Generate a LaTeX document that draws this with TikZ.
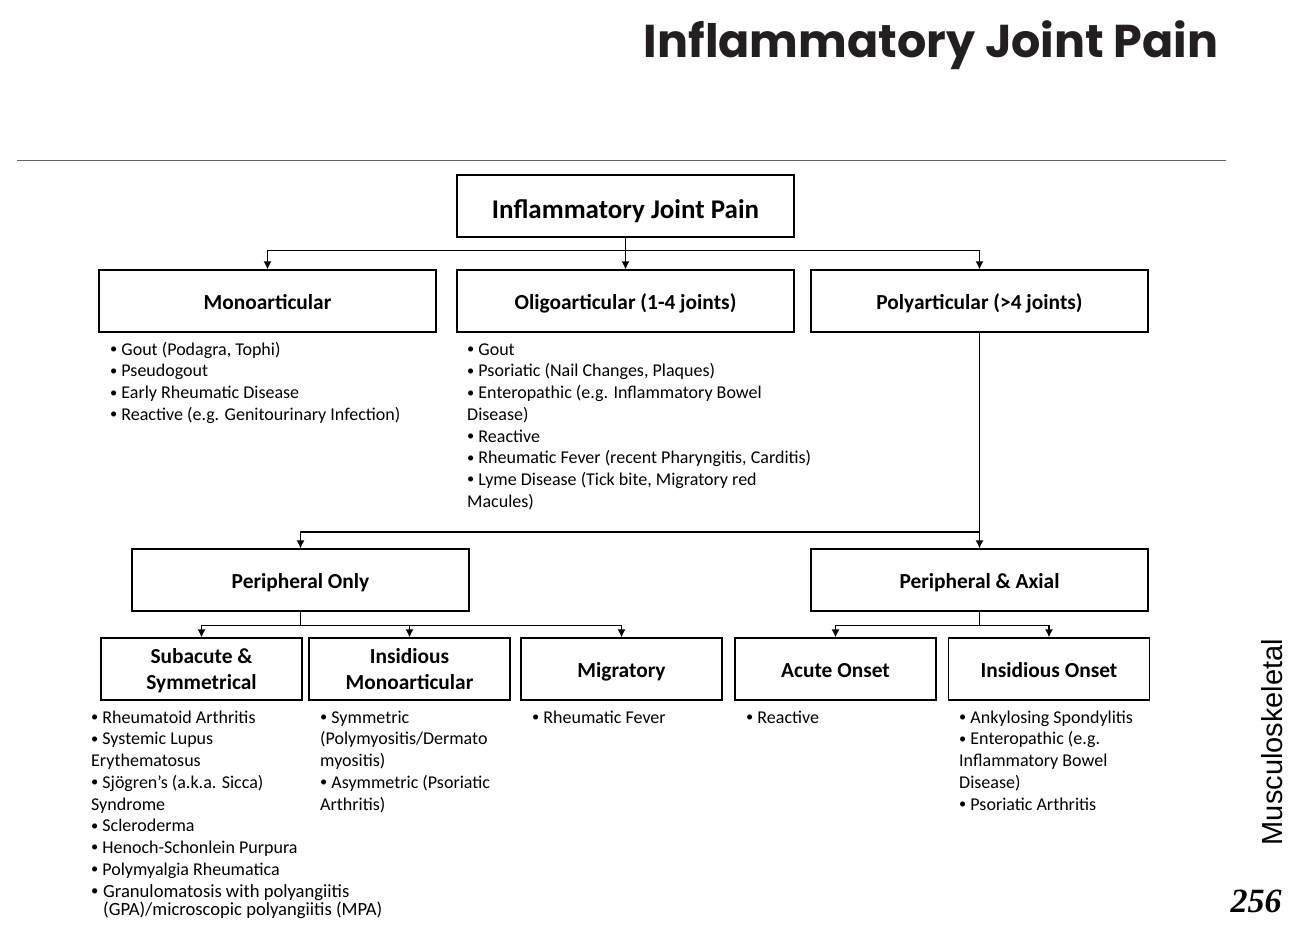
\documentclass[tikz,border=0pt]{standalone}
\usepackage{fontspec}
\usepackage{graphicx}
\setmainfont{Carlito}
\newfontfamily\titlefont{Poppins}
\newfontfamily\sidefont{Liberation Sans}
\newfontfamily\numfont{Liberation Serif}
\usetikzlibrary{arrows.meta}
\definecolor{ink}{HTML}{231F20}
\newcommand\bu{\raisebox{0.08em}{\scalebox{0.8}{•}}}
\newcommand\bs{\rule[-5pt]{0pt}{27pt}}
\newcommand\bsb{\rule[-5pt]{0pt}{35pt}}
\begin{document}
\begin{tikzpicture}[x=1pt,y=-1pt,
  box/.style={draw, line width=1.3pt, minimum width=337pt, minimum height=62pt,
    align=center, inner sep=0pt, font=\bfseries\fontsize{21.4}{26}\selectfont},
  sbox/.style={box, minimum width=201pt},
  arr/.style={line width=1.3pt, -{Latex[length=8pt,width=8pt]}},
  conn/.style={line width=1.3pt},
  bul/.style={anchor=north west, inner sep=0pt, align=left,
    font=\fontsize{18}{21.7}\selectfont}]
\useasboundingbox (0,0) rectangle (1291,938);

% header
\node[anchor=base east, text=ink, font=\titlefont\bfseries\fontsize{46}{56}\selectfont] (title) at (1222,57) {Inflammatory Joint Pain};
\draw[gray!80!black, line width=0.9pt] (17,160) -- (1226,160);

% boxes
\node[box, font=\bfseries\fontsize{27}{32}\selectfont] (top) at (625.5,206) {\bsb Inflammatory Joint Pain};
\node[box] (mono)  at (267.5,301) {\bs Monoarticular};
\node[box] (oligo) at (625.5,301) {\bs Oligoarticular (1-4 joints)};
\node[box] (poly)  at (979.5,301) {\bs Polyarticular (>4 joints)};
\node[box] (po) at (300.5,580) {\bs Peripheral Only};
\node[box] (pa) at (979.5,580) {\bs Peripheral \& Axial};
\node[sbox] (sub)    at (201.5,669) {\rule{0pt}{20pt}Subacute \&\\\rule[-5pt]{0pt}{5pt}Symmetrical};
\node[sbox] (imono)  at (409.5,669) {\rule{0pt}{20pt}Insidious\\\rule[-5pt]{0pt}{5pt}Monoarticular};
\node[sbox] (mig)    at (621.5,669) {\bs Migratory};
\node[sbox] (acute)  at (835.5,669) {\bs Acute Onset};
\node[sbox] (ionset) at (1049,669) {\bs Insidious Onset};

% connectors
\draw[conn] (top.south) -- ++(0,13) coordinate (j1);
\draw[arr] (j1) -| (mono.north);
\draw[arr] (j1) -| (poly.north);
\draw[arr] (top.south) -- (oligo.north);
\draw[arr] (poly.south) -- (pa.north);
\coordinate (j2) at (979.5,532);
\draw[arr] (j2) -| (po.north);
\draw[conn] (po.south) -- ++(0,14) coordinate (j3);
\draw[arr] (j3) -| (sub.north);
\draw[arr] (j3) -| (imono.north);
\draw[arr] (j3) -| (mig.north);
\draw[conn] (pa.south) -- ++(0,14) coordinate (j4);
\draw[arr] (j4) -| (acute.north);
\draw[arr] (j4) -| (ionset.north);

% bullet lists
\node[bul] (lmono) at (110,340) {\rule{0pt}{15pt}\bu\ Gout (Podagra, Tophi)\\\bu\ Pseudogout\\\bu\ Early Rheumatic Disease\\\bu\ Reactive (e.g. Genitourinary Infection)};
\node[bul] (loligo) at (467,340) {\rule{0pt}{15pt}\bu\ Gout\\\bu\ Psoriatic (Nail Changes, Plaques)\\\bu\ Enteropathic (e.g. Inflammatory Bowel\\Disease)\\\bu\ Reactive\\\bu\ Rheumatic Fever (recent Pharyngitis, Carditis)\\\bu\ Lyme Disease (Tick bite, Migratory red\\Macules)};
\node[bul] (lsub) at (91,708) {\rule{0pt}{15pt}\bu\ Rheumatoid Arthritis\\\bu\ Systemic Lupus\\Erythematosus\\\bu\ Sjögren’s (a.k.a. Sicca)\\Syndrome\\\bu\ Scleroderma\\\bu\ Henoch-Schonlein Purpura\\\bu\ Polymyalgia Rheumatica};
\node[bul, font=\fontsize{18.6}{18}\selectfont] (lgpa) at (91,883) {\rule{0pt}{14pt}\makebox[12pt][l]{\bu}Granulomatosis with polyangiitis\\\hspace*{12pt}(GPA)/microscopic polyangiitis (MPA)};
\node[bul] (limono) at (320,708) {\rule{0pt}{15pt}\bu\ Symmetric\\(Polymyositis/Dermato\\myositis)\\\bu\ Asymmetric (Psoriatic\\Arthritis)};
\node[bul] (lmig) at (532,708) {\rule{0pt}{15pt}\bu\ Rheumatic Fever};
\node[bul] (lacute) at (746,708) {\rule{0pt}{15pt}\bu\ Reactive};
\node[bul] (lionset) at (959,708) {\rule{0pt}{15pt}\bu\ Ankylosing Spondylitis\\\bu\ Enteropathic (e.g.\\Inflammatory Bowel\\Disease)\\\bu\ Psoriatic Arthritis};

% side
\node[rotate=90, font=\sidefont\fontsize{29}{34}\selectfont] (side) at (1272,742) {Musculoskeletal};
\node[font=\numfont\bfseries\itshape\fontsize{34}{40}\selectfont] (page) at (1256,901) {256};
\end{tikzpicture}
\end{document}
